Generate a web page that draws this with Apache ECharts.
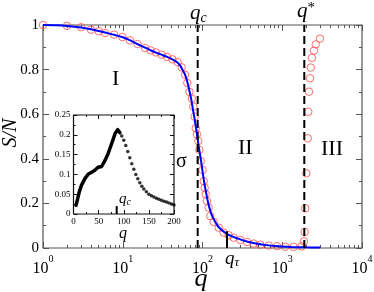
<!DOCTYPE html>
<html><head><meta charset="utf-8">
<script src="https://cdn.jsdelivr.net/npm/echarts@6/dist/echarts.min.js"></script>
<style>html,body{margin:0;padding:0;background:#fff}#c{width:374px;height:292px}</style>
</head><body><div id="c"></div>
<script>
// ---- data ----
const circleQ = [1,2,3,4,5,6,7.8,9.9,12.3,15.3,19,22.4,26,30.8,36,42,48.8,54.8,60.4,64.5,68.5,73.5,76.7,79.8,82.2,85,88.7,91.5,95,100,103.5,106.5,109.6,113.8,119.4,125.3,138,159.6,184,213,246,298,362,438,531,676,860,1093,1391,1750,1870,1910,1945,2004,2084,2122,2163,2230,2275,2360,2500,2630,2972];
const circleS = [1,0.996,0.99,0.979,0.972,0.964,0.957,0.946,0.931,0.915,0.897,0.886,0.877,0.867,0.857,0.846,0.834,0.81,0.777,0.74,0.70,0.67,0.634,0.589,0.537,0.51,0.48,0.44,0.39,0.35,0.30,0.27,0.241,0.211,0.181,0.143,0.117,0.091,0.069,0.057,0.046,0.036,0.027,0.02,0.015,0.011,0.008,0.005,0.005,0.007,0.03,0.072,0.178,0.335,0.492,0.611,0.701,0.761,0.809,0.853,0.885,0.913,0.939];
const fitQ = [1,1.5,2,3,4,5,6,8,10,12,15,20,25,30,36,42,48,52,56,60,64,68,72,76,80,84,88,92,96,100,105,110,115,120,130,143,160,190,230,280,350,450,600,900,1300,2000,3000];
const fitS = [1,0.999,0.996,0.989,0.981,0.973,0.966,0.955,0.945,0.933,0.916,0.895,0.879,0.868,0.857,0.846,0.833,0.82,0.80,0.78,0.75,0.71,0.67,0.62,0.575,0.525,0.475,0.43,0.39,0.345,0.295,0.255,0.22,0.19,0.15,0.12,0.093,0.07,0.053,0.042,0.03,0.021,0.014,0.008,0.005,0.003,0.002];
const insetLineQ = [5,7.6,11.5,16,23,29.5,36,43,49,56,63,69,76,83,88,92.5];
const insetLineSigma = [0.022,0.035,0.056,0.073,0.09,0.101,0.105,0.111,0.118,0.12,0.136,0.153,0.178,0.204,0.213,0.205];
const insetDotQ = [96,100,104,108,112,116,120,124,128,132,136,140,145,150,155,160,165,170,175,180,185,190,195,200];
const insetDotSigma = [0.197,0.186,0.173,0.158,0.142,0.127,0.113,0.1,0.089,0.079,0.07,0.063,0.056,0.05,0.046,0.043,0.04,0.037,0.035,0.032,0.03,0.028,0.025,0.023];
const qC = 87, qStar = 1890, qTau = 203, qCInset = 86;
const xMajor = [1,10,100,1000,10000];
const xMinor = [2,3,4,5,6,7,8,9,20,30,40,50,60,70,80,90,200,300,400,500,600,700,800,900,2000,3000,4000,5000,6000,7000,8000,9000];
const yMajor = [0,0.2,0.4,0.6,0.8,1];
const yMinor = [0.1,0.3,0.5,0.7,0.9];
const yLabels = {0:'0',0.2:'0.2',0.4:'0.4',0.6:'0.6',0.8:'0.8',1:'1'};
const insetXMajor = [0,50,100,150,200];
const insetXMinor = [25,75,125,175];
const insetYMajor = [0,0.05,0.1,0.15,0.2,0.25];
const insetYMinor = [0.025,0.075,0.125,0.175,0.225];
const insetYLabels = ['0','0.05','0.1','0.15','0.2','0.25'];

// ---- chart ----
const F = 'Liberation Serif';
const zip = (a,b) => a.map((v,i)=>[v,b[i]]);
const frame = '#555';
const ink = '#111';
const chart = echarts.init(document.getElementById('c'));

// main grid: 319 px for 4 decades, 223 px for 0..1 ; inset: 100.5 px for 0..200, 99 px for 0..0.25
const MAIN = {w:319, h:223};
const INS = {w:100.5, h:99};

// tick segments for main (log x) grid
function mainTicks(xs, ys, len) {
  const dy = len / MAIN.h, f = Math.pow(10, len * 4 / MAIN.w), segs = [];
  xs.forEach(v => { segs.push({coords:[[v,0],[v,dy]]}); segs.push({coords:[[v,1],[v,1-dy]]}); });
  ys.forEach(v => { segs.push({coords:[[1,v],[f,v]]}); segs.push({coords:[[10000,v],[10000/f,v]]}); });
  return segs;
}
function insetTicks(xs, ys, len) {
  const dx = len * 200 / INS.w, dy = len * 0.25 / INS.h, segs = [];
  xs.forEach(v => { segs.push({coords:[[v,0],[v,dy]]}); segs.push({coords:[[v,0.25],[v,0.25-dy]]}); });
  ys.forEach(v => { segs.push({coords:[[0,v],[dx,v]]}); segs.push({coords:[[200,v],[200-dx,v]]}); });
  return segs;
}
const linesSeries = (xi, yi, data, color, width, poly) => ({
  type:'lines', coordinateSystem:'cartesian2d', xAxisIndex:xi, yAxisIndex:yi, polyline:!!poly,
  data, clip:false, silent:true, z:1, lineStyle:{color, width, opacity:1, curveness:0}, effect:{show:false}
});

const noLine = {axisLine:{show:false, onZero:false}, axisTick:{show:false}, splitLine:{show:false},
                minorTick:{show:false}, minorSplitLine:{show:false}};

const vline = (q, top, xi, yi, dashed, w) => ({
  type:'line', xAxisIndex:xi, yAxisIndex:yi, data:[[q,0],[q,top]], showSymbol:false, silent:true,
  lineStyle:{color:'#000', width:w, type: dashed ? [8,4] : 'solid'}, z:5
});
const txt = (x, y, rich, text, extra) => Object.assign({type:'text', x, y, style:{text, rich, fill:'#000'}}, extra||{});
const qr = (s) => ({ q:{fontFamily:F, fontStyle:'italic', fontSize:s, fill:'#000'} });

chart.setOption({
  animation:false,
  grid:[
    {left:43, top:25, width:MAIN.w, height:MAIN.h, outerBoundsMode:'none'},
    {left:73.5, top:115, width:INS.w, height:INS.h, outerBoundsMode:'none'}
  ],
  xAxis:[
    Object.assign({type:'log', logBase:10, min:1, max:10000, gridIndex:0, position:'bottom',
      axisLabel:{show:true, margin:6,
        formatter: v => '{b|10}{e|' + Math.round(Math.log10(v)) + '}',
        rich:{ b:{fontFamily:F, fontSize:16, color:'#000', verticalAlign:'bottom', padding:[7,0,0,0]},
               e:{fontFamily:F, fontSize:10, color:'#000', verticalAlign:'top'} }}}, noLine),
    Object.assign({type:'value', min:0, max:200, interval:50, gridIndex:1, position:'bottom',
      axisLabel:{show:true, margin:3, fontFamily:F, fontSize:9, color:'#000'}}, noLine)
  ],
  yAxis:[
    Object.assign({type:'value', min:0, max:1, interval:0.2, gridIndex:0, position:'left',
      axisLabel:{show:true, margin:4, fontFamily:F, fontSize:15, color:'#000',
        formatter: v => yLabels[Math.round(v*10)/10]}}, noLine),
    Object.assign({type:'value', min:0, max:0.25, interval:0.05, gridIndex:1, position:'left',
      axisLabel:{show:true, margin:3, fontFamily:F, fontSize:9, color:'#000',
        formatter: v => insetYLabels[Math.round(v/0.05)]}}, noLine)
  ],
  series:[
    linesSeries(0, 0, [{coords:[[1,0],[10000,0],[10000,1],[1,1],[1,0]]}], frame, 1.2, true),
    linesSeries(0, 0, mainTicks(xMajor, yMajor, 6), frame, 1),
    linesSeries(0, 0, mainTicks(xMinor, yMinor, 3), frame, 1),
    linesSeries(1, 1, [{coords:[[0,0],[200,0],[200,0.25],[0,0.25],[0,0]]}], ink, 1.2, true),
    linesSeries(1, 1, insetTicks(insetXMajor, insetYMajor, 4), ink, 1),
    linesSeries(1, 1, insetTicks(insetXMinor, insetYMinor, 2), ink, 1),
    {type:'scatter', xAxisIndex:0, yAxisIndex:0, data:zip(circleQ, circleS), symbol:'circle', symbolSize:7.5,
     itemStyle:{color:'rgba(255,255,255,0)', borderColor:'#ff4a4a', borderWidth:1}, z:2},
    {type:'line', xAxisIndex:0, yAxisIndex:0, data:zip(fitQ, fitS), showSymbol:false, smooth:0.3,
     lineStyle:{color:'#0000ff', width:2}, z:4},
    vline(qC, 1, 0, 0, true, 2),
    vline(qStar, 1, 0, 0, true, 2),
    vline(qTau, 0.075, 0, 0, false, 2),
    {type:'line', xAxisIndex:1, yAxisIndex:1, data:zip(insetLineQ, insetLineSigma), showSymbol:false,
     lineStyle:{color:'#000', width:3.5, cap:'round', join:'round'}, z:6},
    {type:'scatter', xAxisIndex:1, yAxisIndex:1, data:zip(insetDotQ, insetDotSigma), symbolSize:3.5,
     itemStyle:{color:'#000'}, z:6},
    vline(qCInset, 0.02, 1, 1, false, 2)
  ],
  graphic:[
    txt(190, 2, Object.assign(qr(21), {s:{fontFamily:F, fontStyle:'italic', fontSize:14, fill:'#000', padding:[9,0,0,0]}}), '{q|q}{s|c}'),
    txt(297, 1, Object.assign(qr(21), {s:{fontFamily:F, fontSize:15, fill:'#000', verticalAlign:'top'}}), '{q|q}{s|*}'),
    txt(225, 248, Object.assign(qr(19), {s:{fontFamily:F, fontStyle:'italic', fontSize:13, fill:'#000', padding:[8,0,0,0]}}), '{q|q}{s|τ}'),
    txt(119, 191, Object.assign(qr(15), {s:{fontFamily:F, fontStyle:'italic', fontSize:10, fill:'#000', padding:[6,0,0,0]}}), '{q|q}{s|c}', {z:10}),
    {type:'text', x:112, y:68, style:{text:'I', font:'22px "Liberation Serif"', fill:'#000'}},
    {type:'text', x:238, y:137, style:{text:'II', font:'22px "Liberation Serif"', fill:'#000'}},
    {type:'text', x:321, y:138, style:{text:'III', font:'22px "Liberation Serif"', fill:'#000'}},
    {type:'text', x:176, y:152, style:{text:'σ', font:'20px "Liberation Serif"', fill:'#000'}},
    {type:'text', x:201, y:279, style:{text:'q', font:'italic 26px "Liberation Serif"', fill:'#000', align:'center', verticalAlign:'middle'}},
    {type:'text', x:11, y:133, rotation:Math.PI/2, style:{text:'S/N', font:'italic 20px "Liberation Serif"', fill:'#000', align:'center', verticalAlign:'middle'}},
    {type:'text', x:123, y:234, style:{text:'q', font:'italic 16px "Liberation Serif"', fill:'#000', align:'center', verticalAlign:'middle'}}
  ]
});
</script></body></html>
